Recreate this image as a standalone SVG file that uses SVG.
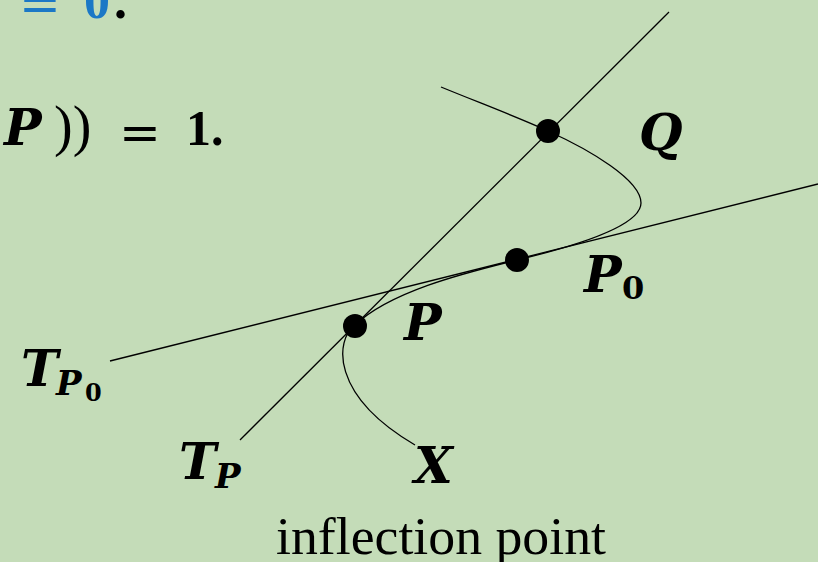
<svg xmlns="http://www.w3.org/2000/svg" width="818" height="562" viewBox="0 0 818 562">
<style>
.ln{fill:none;stroke:#000;stroke-width:1.3}
.dot{fill:#000}
.m{font-family:"DejaVu Serif","Liberation Serif",serif;font-style:italic;font-weight:bold;fill:#000}
.r{font-family:"Liberation Serif","Times New Roman",serif;fill:#000}
.e{font-family:"DejaVu Serif","Liberation Serif",serif;fill:#000}
.d{font-family:"DejaVu Serif","Liberation Serif",serif;font-weight:bold;fill:#000}
.b{font-weight:bold}
.blue{fill:#1b78c6}
</style>
<rect width="818" height="562" fill="#c4dcb8"/>
<g id="top-text">
<text class="e blue" font-size="50" x="19" y="21">=</text>
<text class="r b blue" font-size="52" x="84" y="18">0</text>
<text class="r b" font-size="52" x="114" y="18">.</text>
<text class="m" font-size="50" x="4" y="145">P</text>
<text class="r" font-size="56" x="54" y="145">))</text>
<text class="e" font-size="50" x="119" y="150">=</text>
<text class="r b" font-size="50" x="186" y="145">1.</text>
</g>
<g id="connectors">
<path class="ln" d="M240 440 L669 12"/>
<path class="ln" d="M110 361 L818 184"/>
<path id="curve" class="ln" d="M441 87 C480 103 520 118 548 131 C590 150 641 180 641 203 C641 225 580 245 517 260 C460 274 390 292 355 325 C335 340 330 395 415 445"/>
</g>
<g id="Q"><circle class="dot" cx="548" cy="131" r="12"/><text class="m" x="639" y="150" font-size="50">Q</text></g>
<g id="P0"><circle class="dot" cx="517" cy="260" r="12"/><text class="m" x="584" y="292" font-size="50">P</text><text class="d" x="622" y="299" font-size="32">0</text></g>
<g id="P"><circle class="dot" cx="355" cy="326" r="12"/><text class="m" x="404" y="340" font-size="50">P</text></g>
<g id="TP0"><text class="m" x="21" y="386" font-size="50">T</text><text class="m" x="56" y="395" font-size="34">P</text><text class="d" x="85" y="401" font-size="24">0</text></g>
<g id="TP"><text class="m" x="179" y="479" font-size="50">T</text><text class="m" x="215" y="488" font-size="34">P</text></g>
<g id="X"><text class="m" x="414" y="483" font-size="50">X</text></g>
<g id="caption"><text class="r" x="276" y="554" font-size="52" textLength="330" lengthAdjust="spacingAndGlyphs">inflection point</text></g>
</svg>
